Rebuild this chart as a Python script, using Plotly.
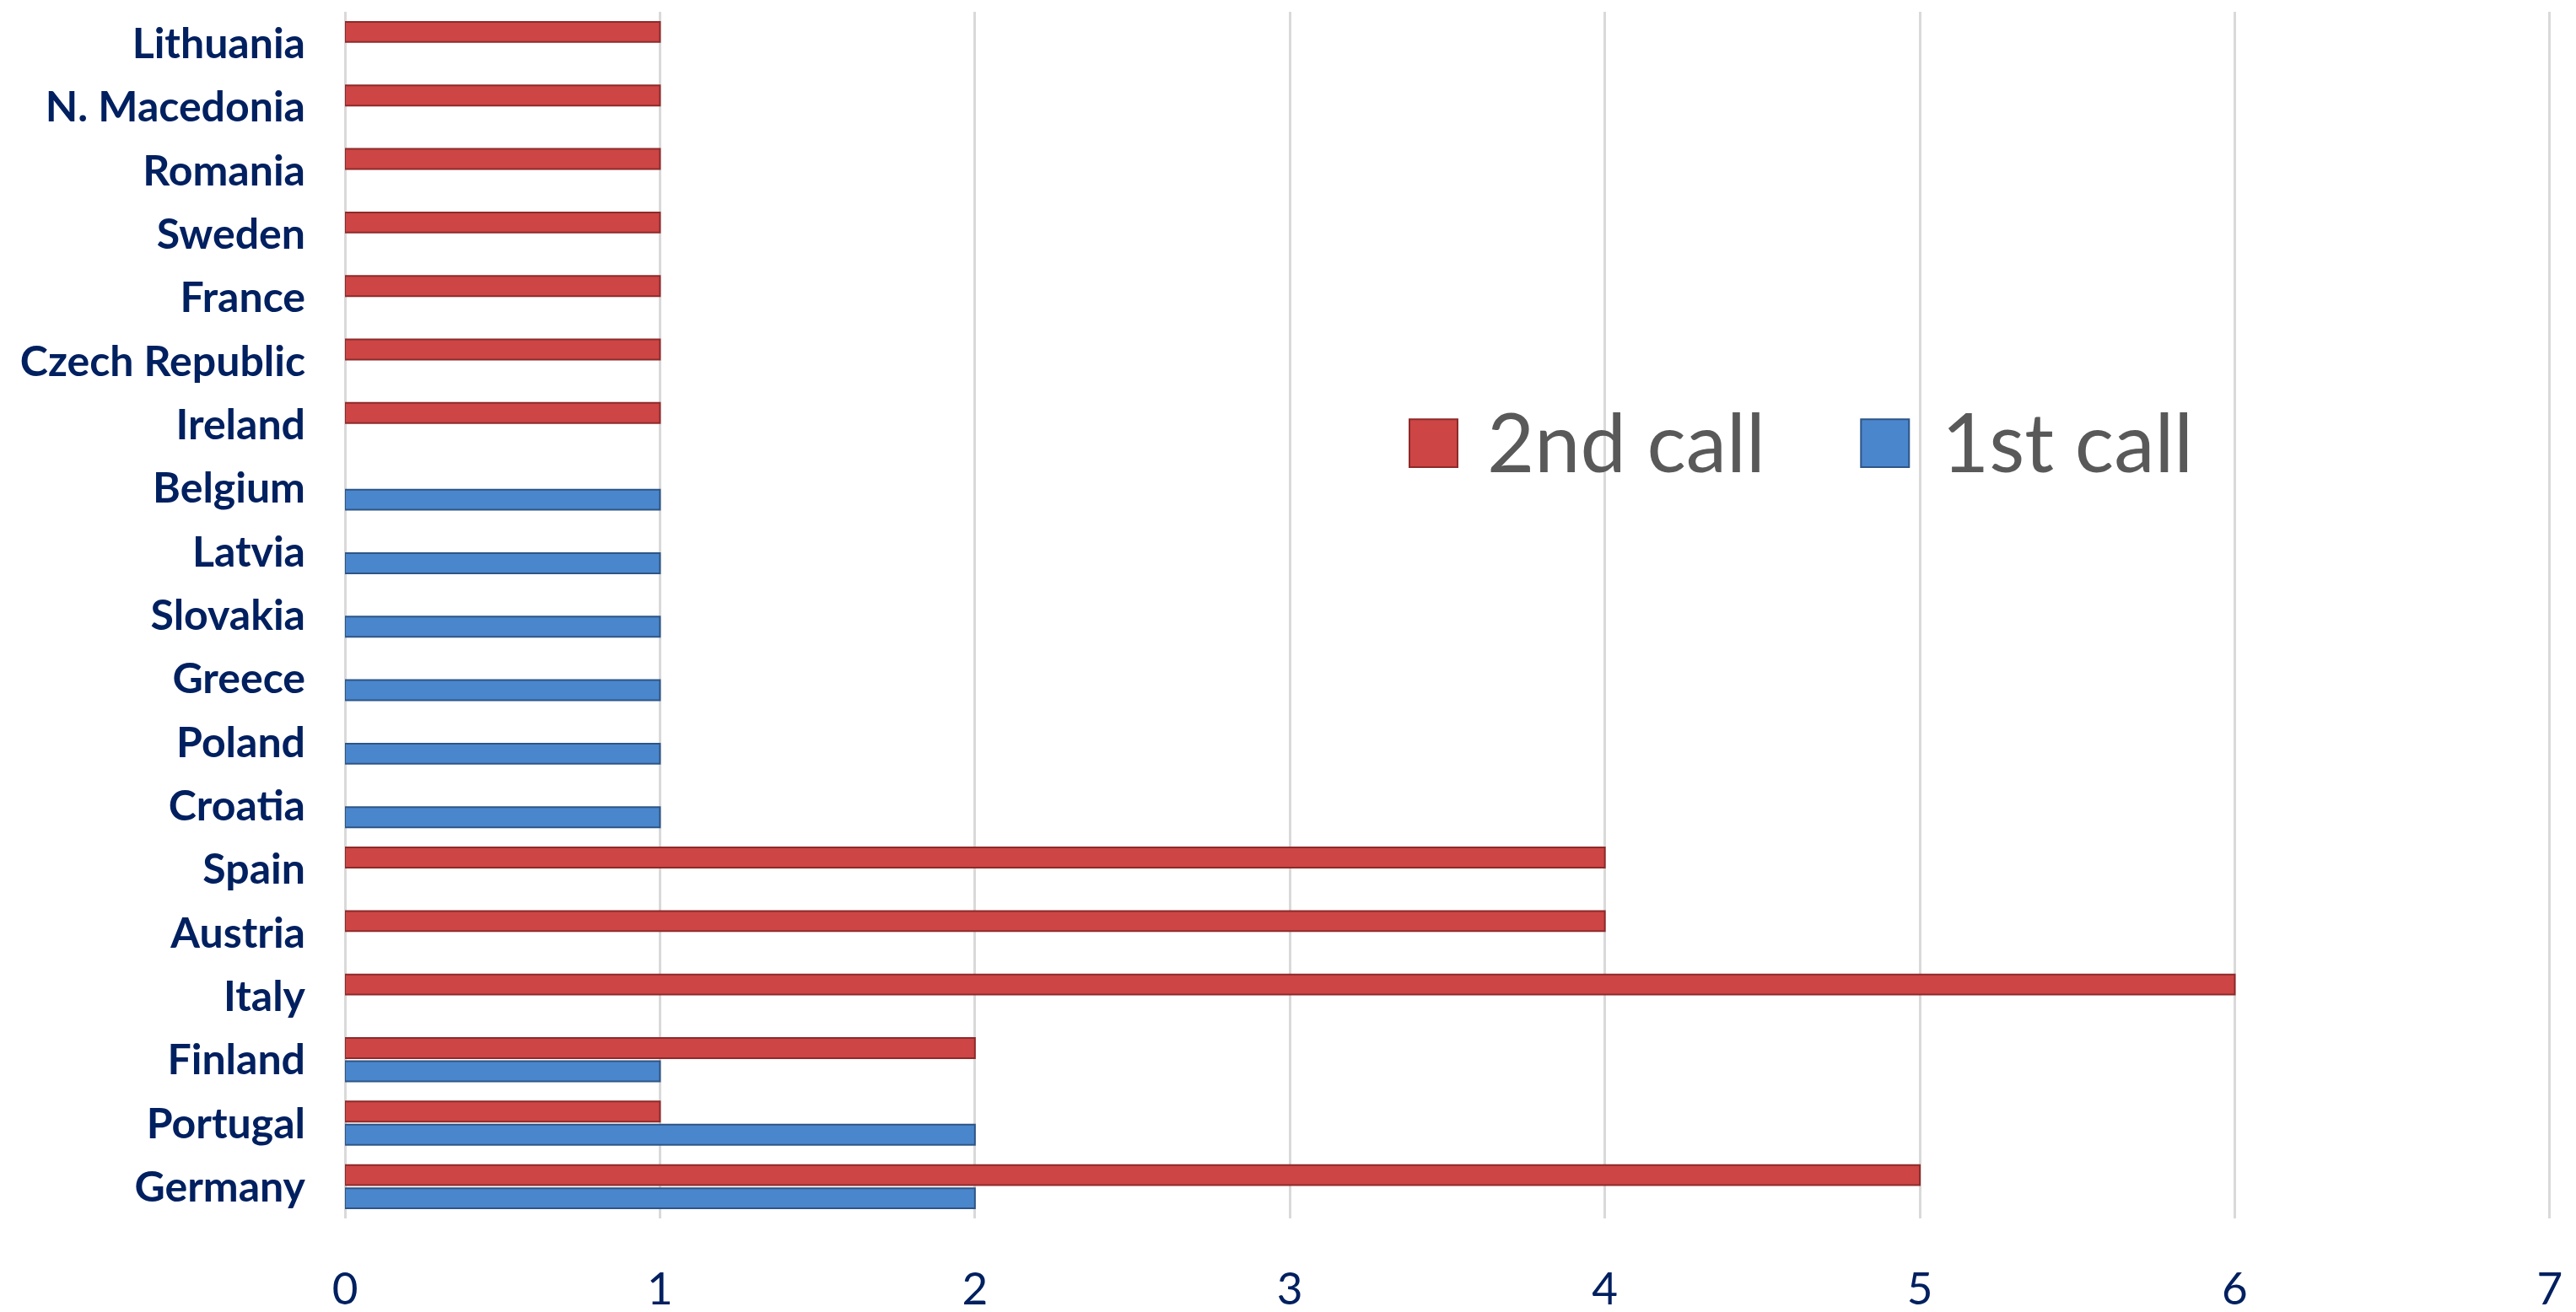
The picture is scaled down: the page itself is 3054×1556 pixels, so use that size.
import plotly.graph_objects as go

countries = ["Germany", "Portugal", "Finland", "Italy", "Austria", "Spain",
             "Croatia", "Poland", "Greece", "Slovakia", "Latvia", "Belgium",
             "Ireland", "Czech Republic", "France", "Sweden", "Romania",
             "N. Macedonia", "Lithuania"]
first_call = [2, 2, 1, None, None, None, 1, 1, 1, 1, 1, 1,
              None, None, None, None, None, None, None]
second_call = [5, 1, 2, 6, 4, 4, None, None, None, None, None, None,
               1, 1, 1, 1, 1, 1, 1]
x_ticks = [0, 1, 2, 3, 4, 5, 6, 7]

RED = "#CD4545"
RED_EDGE = "#8E2A2A"
BLUE = "#4A86CC"
BLUE_EDGE = "#2C5586"
NAVY = "#002060"

fig = go.Figure()
fig.add_trace(go.Bar(y=countries, x=first_call, orientation="h", name="1st call",
                     marker=dict(color=BLUE, line=dict(color=BLUE_EDGE, width=2)),
                     showlegend=False))
fig.add_trace(go.Bar(y=countries, x=second_call, orientation="h", name="2nd call",
                     marker=dict(color=RED, line=dict(color=RED_EDGE, width=2)),
                     showlegend=False))

W, H = 3054, 1556
L, R, T, B = 401, 38, 6, 110
fig.update_layout(
    width=W, height=H,
    margin=dict(l=L, r=R, t=T, b=B),
    paper_bgcolor="white", plot_bgcolor="white",
    barmode="group", bargap=0.27, bargroupgap=0.13,
    font=dict(family="Lato", color=NAVY),
)
fig.update_xaxes(range=[0, 7.003], tickvals=x_ticks, showgrid=True,
                 gridcolor="#D9D9D9", gridwidth=3, zeroline=True,
                 zerolinecolor="#D9D9D9", zerolinewidth=3, showline=False,
                 ticks="", tickfont=dict(family="Lato", size=53, color=NAVY),
                 ticklabelstandoff=48)
fig.update_yaxes(categoryorder="array", categoryarray=countries,
                 showgrid=False, showline=False, ticks="",
                 tickfont=dict(family="Lato", size=50, color=NAVY, weight="bold"),
                 ticklabelstandoff=46)

# Legend (drawn manually so the swatches match the reference size)
legend_items = [("2nd call", RED, RED_EDGE, 0.4826, 0.517),
                ("1st call", BLUE, BLUE_EDGE, 0.6873, 0.7233)]
for label, col, edge, x0, xt in legend_items:
    fig.add_shape(type="rect", xref="paper", yref="paper",
                  x0=x0, x1=x0 + 0.0218, y0=0.6227, y1=0.6623,
                  fillcolor=col, line=dict(color=edge, width=2))
    fig.add_annotation(xref="paper", yref="paper", x=xt, y=0.6445,
                       xanchor="left", yanchor="middle", showarrow=False,
                       text=label, font=dict(family="Lato", size=97, color="#595959"))

fig.write_html("out.html")
